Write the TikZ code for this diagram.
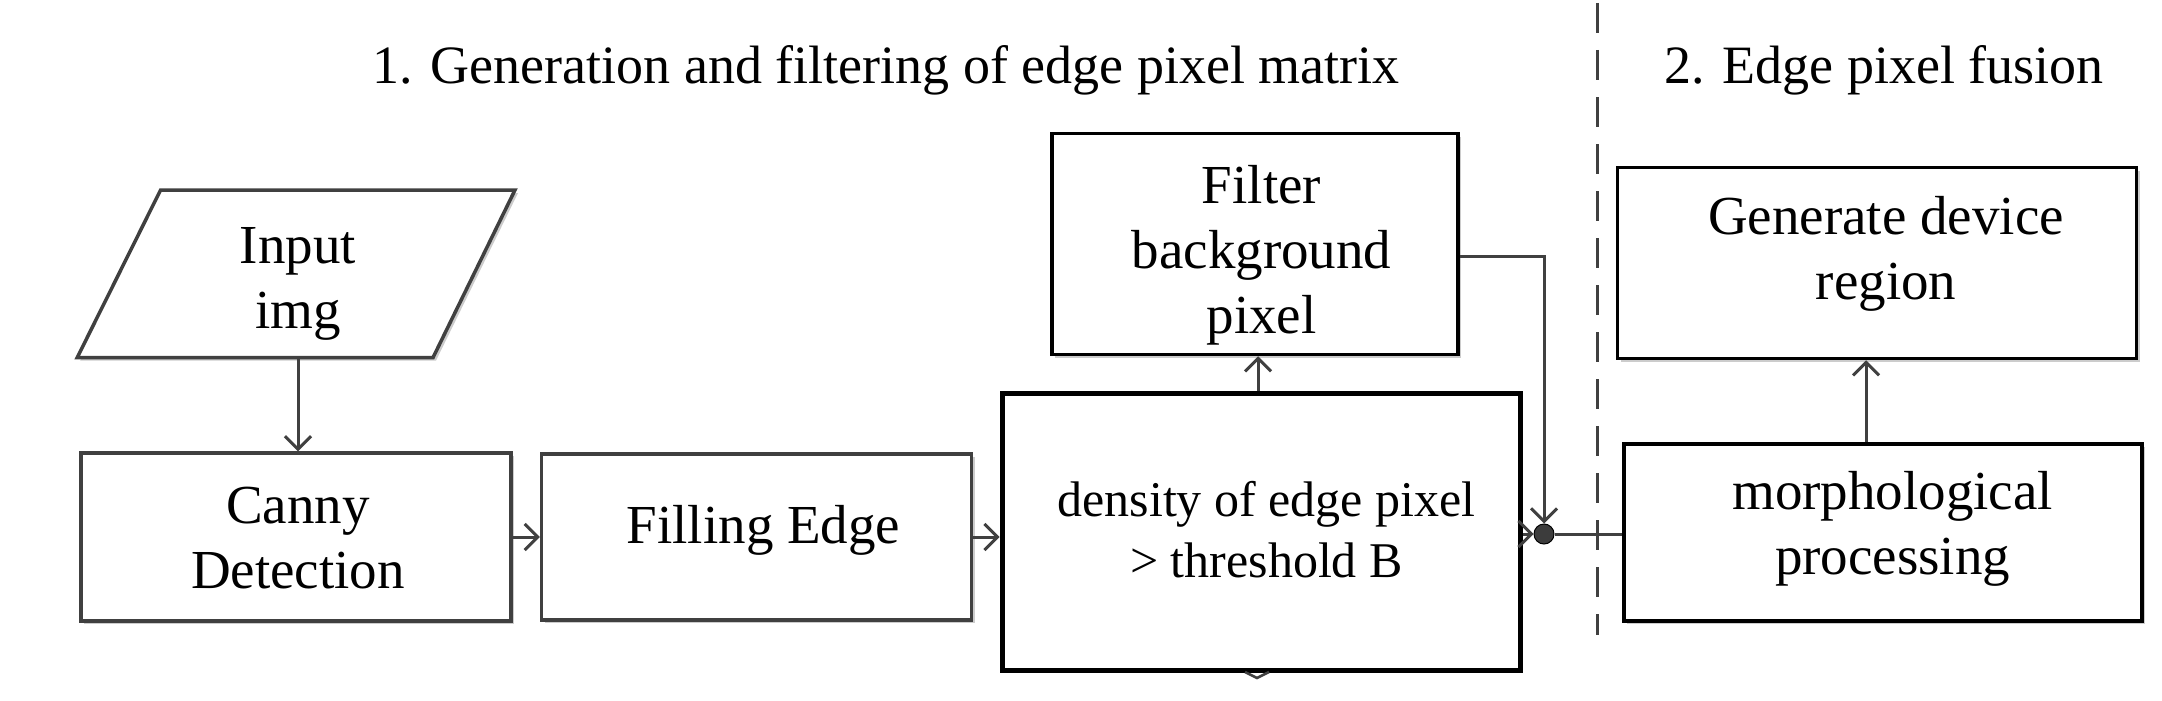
\documentclass[tikz,border=0pt]{standalone}
\usepackage{fontspec}
\setmainfont{Liberation Serif}
\usetikzlibrary{arrows.meta,shadows}
\definecolor{lnc}{RGB}{64,64,64}
\definecolor{dotc}{RGB}{60,60,60}
\begin{document}
\begin{tikzpicture}[x=1pt,y=-1pt,
  shad/.style={drop shadow={shadow xshift=3pt,shadow yshift=-3pt,fill=black!20,opacity=1}},
  box/.style={draw=black, fill=white, line width=3.5pt, inner sep=0pt, shad},
  gbox/.style={box, draw=lnc},
  txt/.style={font=\fontsize{55}{65}\selectfont, align=center, inner sep=0pt, anchor=base},
  stxt/.style={txt, font=\fontsize{50}{61}\selectfont},
  ttl/.style={font=\fontsize{54}{60}\selectfont, inner sep=0pt, anchor=base},
  arr/.style={draw=lnc, line width=3pt, -{Straight Barb[length=13pt,width=26pt,line width=3pt]}},
  ln/.style={draw=lnc, line width=3pt}]

\useasboundingbox (0,0) rectangle (2162,701);

% titles
\node[ttl] (t1) at (886,83) {1. Generation and filtering of edge pixel matrix};
\node[ttl] (t2) at (1884,83) {2. Edge pixel fusion};

% separator
\draw[lnc, line width=3pt, dash pattern=on 30pt off 17pt] (1597,3) -- (1597,635);

% input parallelogram
\draw[lnc, line width=3.5pt, fill=white, shad] (160.6,190) -- (515,190) -- (433,357.6) -- (77.2,357.6) -- cycle;
\coordinate (inbot) at (298,357.6);
\node[txt] (inputt) at (298,328.6) {Input\\img};

% boxes
\node[gbox, minimum width=430pt, minimum height=168pt] (canny) at (296,537) {};
\node[gbox, minimum width=430pt, minimum height=166pt] (filling) at (756.5,537) {};
\node[box, line width=5pt, minimum width=518pt, minimum height=277pt] (dens) at (1261,531.5) {};
\node[box, minimum width=406pt, minimum height=221pt] (filt) at (1255,244) {};
\node[box, minimum width=519pt, minimum height=191pt] (gen) at (1877,263) {};
\node[box, minimum width=518pt, minimum height=177pt] (morph) at (1883,532.5) {};

% texts
\node[txt] (cannyt) at (298,588) {Canny\\Detection};
\node[txt] (fillingt) at (763.5,543) {Filling Edge};
\node[stxt] (denst) at (1266.5,577) {density of edge pixel\\> threshold B};
\node[txt] (filtt) at (1261.5,333) {Filter\\background\\pixel};
\node[txt] (gent) at (1886,299.5) {Generate device\\region};
\node[txt] (morpht) at (1892.6,574.5) {morphological\\processing};

% junction
\node[circle, fill=dotc, draw=black, line width=1pt, minimum size=20pt, inner sep=0pt] (dot) at (1544,534) {};

% connectors
\draw[arr] (inbot) -- (inbot |- canny.north);
\draw[arr] (canny.east) -- (filling.west);
\draw[arr] (filling.east) -- (dens.west |- filling.east);
\draw[arr] ([xshift=-3pt]dens.north) -- ([xshift=-3pt]dens.north |- filt.south);
\draw[arr] ([yshift=-12pt]filt.east) -| (dot.north);
\draw[arr] (dens.east |- dot) -- (dot.west);
\draw[ln] (dot.east) -- (dot -| morph.west);
\draw[arr] ([xshift=-17pt]morph.north) -- ([xshift=-17pt]morph.north |- gen.south);

% partial tip below density box
\draw[lnc, line width=2.5pt] (1245,672) -- (1257,678) -- (1269,672);
\end{tikzpicture}
\end{document}
